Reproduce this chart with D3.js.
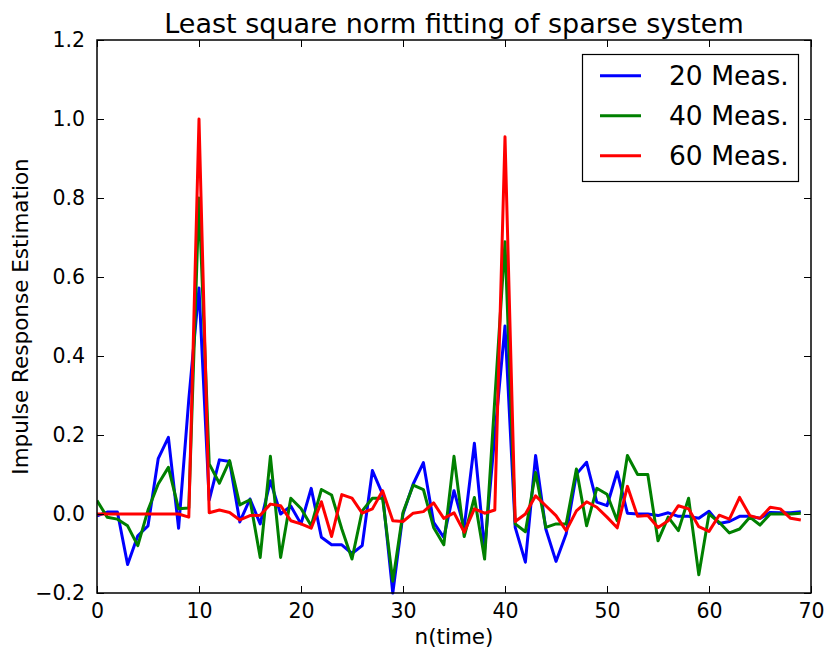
<!DOCTYPE html>
<html><head><meta charset="utf-8">
<script src="https://cdn.jsdelivr.net/npm/d3@7"></script>
<style>body{margin:0;background:#fff;} svg{display:block;font-family:"DejaVu Sans",sans-serif;}</style>
</head><body>
<svg id="chart" width="828" height="652"></svg>
<script>
const title = "Least square norm fitting of sparse system";
const xLabel = "n(time)";
const yLabel = "Impulse Response Estimation";
const xTicks = [0,10,20,30,40,50,60,70];
const yTicks = [-0.2,0.0,0.2,0.4,0.6,0.8,1.0,1.2];
const seriesNames = ["20 Meas.","40 Meas.","60 Meas."];
const seriesColors = ["#0000ff","#008000","#ff0000"];
const meas20 = [-0.005,0.005,0.005,-0.128,-0.055,-0.03,0.14,0.194,-0.036,0.29,
  0.572,0.035,0.137,0.133,-0.02,0.038,-0.025,0.084,0.0,0.02,
  -0.025,0.065,-0.059,-0.078,-0.078,-0.10,-0.08,0.11,0.05,-0.2,
  0.0,0.076,0.13,-0.021,-0.059,0.059,-0.034,0.179,-0.09,0.2,
  0.476,-0.034,-0.122,0.148,-0.038,-0.12,-0.05,0.101,0.131,0.03,
  0.021,0.107,0.002,0.0,0.0,-0.004,0.003,-0.006,-0.006,-0.011,
  0.007,-0.024,-0.019,-0.006,-0.006,-0.011,0.004,0.003,0.003,0.006];
const meas40 = [0.034,-0.008,-0.013,-0.03,-0.08,0.01,0.076,0.118,0.013,0.015,
  0.80,0.127,0.078,0.135,0.023,0.036,-0.11,0.146,-0.11,0.04,
  0.014,-0.03,0.062,0.048,-0.038,-0.114,0.008,0.04,0.04,-0.17,
  0.004,0.073,0.062,-0.034,-0.078,0.146,-0.057,0.042,-0.114,0.29,
  0.689,-0.025,-0.045,0.105,-0.034,-0.025,-0.025,0.114,-0.03,0.065,
  0.05,-0.017,0.148,0.1,0.1,-0.068,-0.008,-0.042,0.04,-0.154,
  0.0,-0.021,-0.048,-0.038,-0.008,-0.028,0.0,0.0,0.0,0.002];
const meas60 = [0,0,0,0,0,0,0,0,0,-0.008,
  1.0,0.003,0.01,0.004,-0.015,-0.004,-0.003,0.025,0.021,-0.017,
  -0.025,-0.036,0.031,-0.057,0.049,0.04,0.002,0.013,0.059,-0.017,
  -0.019,0.002,0.006,0.028,-0.011,0.003,-0.046,0.013,0.002,0.01,
  0.955,-0.019,0.0,0.046,0.021,-0.004,-0.042,0.008,0.031,0.017,
  -0.008,-0.035,0.07,-0.006,-0.004,-0.034,-0.017,0.021,0.013,-0.032,
  -0.044,-0.003,-0.013,0.042,-0.004,-0.011,0.017,0.013,-0.011,-0.015];

const svg = d3.select("#chart");
const L = 97, R = 811, T = 40, B = 593;
const x = d3.scaleLinear().domain([0,70]).range([L,R]);
const y = d3.scaleLinear().domain([-0.2,1.2]).range([B,T]);

svg.append("clipPath").attr("id","clip").append("rect")
  .attr("x",L).attr("y",T-2).attr("width",R-L).attr("height",B-T+4);

const line = d3.line().x((d,i)=>x(i)).y(d=>y(d));
const allSeries = [meas20, meas40, meas60];
const g = svg.append("g").attr("clip-path","url(#clip)");
allSeries.forEach((s,k)=>{
  g.append("path").datum(s).attr("d",line)
    .attr("fill","none").attr("stroke",seriesColors[k])
    .attr("stroke-width",3).attr("stroke-linejoin","round");
});

// axes with inward ticks on all four sides
const tickLen = 7;
const fmt = d => d < 0 ? "\u2212" + Math.abs(d).toFixed(1) : d.toFixed(1);
const axB = svg.append("g").attr("transform",`translate(0,${B})`)
  .call(d3.axisBottom(x).tickValues(xTicks).tickSize(-tickLen).tickPadding(10).tickFormat(d3.format("d")));
const axT = svg.append("g").attr("transform",`translate(0,${T})`)
  .call(d3.axisTop(x).tickValues(xTicks).tickSize(-tickLen).tickFormat(""));
const axL = svg.append("g").attr("transform",`translate(${L},0)`)
  .call(d3.axisLeft(y).tickValues(yTicks).tickSize(-tickLen).tickPadding(12).tickFormat(fmt));
const axR = svg.append("g").attr("transform",`translate(${R},0)`)
  .call(d3.axisRight(y).tickValues(yTicks).tickSize(-tickLen).tickFormat(""));
[axB,axT,axL,axR].forEach(a=>{
  a.select(".domain").remove();
  a.selectAll(".tick line").attr("stroke","#000").attr("stroke-width",1);
  a.selectAll("text").attr("fill","#000").style("font-size","20.5px").style("font-family","DejaVu Sans");
});
axB.selectAll(".tick text").attr("dy","0.75em");
svg.append("rect").attr("x",L).attr("y",T).attr("width",R-L).attr("height",B-T)
  .attr("fill","none").attr("stroke","#000").attr("stroke-width",1.5);

svg.append("text").attr("x",(L+R)/2).attr("y",33).attr("text-anchor","middle")
  .style("font-size","27px").text(title);
svg.append("text").attr("x",(L+R)/2).attr("y",644).attr("text-anchor","middle")
  .style("font-size","21.5px").text(xLabel);
svg.append("text").attr("transform",`translate(28,${(T+B)/2}) rotate(-90)`).attr("text-anchor","middle")
  .style("font-size","21.5px").text(yLabel);

// legend
const lg = svg.append("g");
lg.append("rect").attr("x",582.5).attr("y",54.5).attr("width",216).attr("height",127)
  .attr("fill","#fff").attr("stroke","#000").attr("stroke-width",1.2);
seriesNames.forEach((n,k)=>{
  const yy = 75.7 + k*40;
  lg.append("line").attr("x1",600).attr("x2",641).attr("y1",yy).attr("y2",yy)
    .attr("stroke",seriesColors[k]).attr("stroke-width",3);
  lg.append("text").attr("x",669).attr("y",yy).attr("dy","0.36em")
    .style("font-size","26.5px").text(n);
});
</script>
</body></html>
